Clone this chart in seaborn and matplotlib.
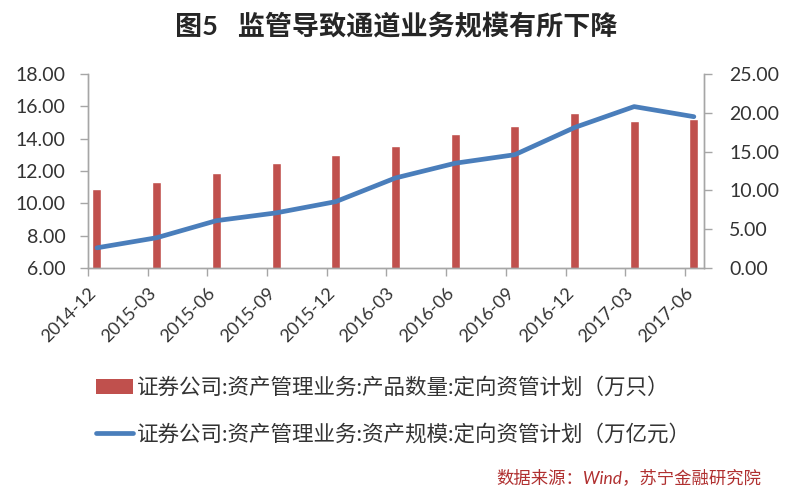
import numpy as np
import pandas as pd
import matplotlib
matplotlib.use("Agg")
import matplotlib.pyplot as plt
import seaborn as sns
from matplotlib.patches import Patch
from matplotlib.lines import Line2D

categories = ["2014-12", "2015-03", "2015-06", "2015-09", "2015-12", "2016-03",
              "2016-06", "2016-09", "2016-12", "2017-03", "2017-06"]
product_count = [10.9, 11.3, 11.9, 12.5, 13.0, 13.55, 14.3, 14.8, 15.6, 15.1, 15.2]
asset_scale = [2.6, 3.9, 6.1, 7.1, 8.55, 11.6, 13.5, 14.6, 18.1, 20.8, 19.5]
left_ticks = [6, 8, 10, 12, 14, 16, 18]
right_ticks = [0, 5, 10, 15, 20, 25]

title = "图5   监管导致通道业务规模有所下降"
label_bar = "证券公司:资产管理业务:产品数量:定向资管计划（万只）"
label_line = "证券公司:资产管理业务:资产规模:定向资管计划（万亿元）"
source = "数据来源：Wind，苏宁金融研究院"

sns.set_style("white")
plt.rcParams["font.family"] = ["Lato", "Noto Sans CJK SC", "DejaVu Sans"]

BAR_COLOR = "#C0504D"
LINE_COLOR = "#4A7EBB"
AXIS_COLOR = "#A6A6A6"
TEXT_COLOR = "#333333"

df = pd.DataFrame({"cat": categories, "count": product_count, "scale": asset_scale,
                   "pos": np.arange(len(categories))})

fig = plt.figure(figsize=(8, 5), dpi=100)
ax = fig.add_axes([0.11, 0.464, 0.77, 0.388])

sns.barplot(data=df, x="pos", y="count", native_scale=True, color=BAR_COLOR,
            width=0.15, saturation=1, ax=ax, zorder=2)
ax.set_ylim(6, 18)
ax.set_yticks(left_ticks)
ax.set_yticklabels([f"{v:.2f}" for v in left_ticks], fontsize=14, color=TEXT_COLOR)

ax2 = ax.twinx()
sns.lineplot(data=df, x="pos", y="scale", color=LINE_COLOR, linewidth=3.4, ax=ax2)
ax2.set_ylim(0, 25)
ax2.set_yticks(right_ticks)
ax2.set_yticklabels([f"{v:.2f}" for v in right_ticks], fontsize=14, color=TEXT_COLOR)

n = len(categories)
ax.set_xlim(-0.15, n - 1 + 0.17)
ax.set_xticks(np.arange(n) - 0.15)
ax.set_xticklabels(categories, rotation=45, ha="right", rotation_mode="anchor",
                   fontsize=13, color=TEXT_COLOR)

for a in (ax, ax2):
    a.set_xlabel("")
    a.set_ylabel("")
    a.grid(False)
    for s in a.spines.values():
        s.set_color(AXIS_COLOR)
        s.set_linewidth(1.0)
    a.spines["top"].set_visible(False)
    a.tick_params(axis="both", which="major", length=6, width=1, color=AXIS_COLOR,
                  direction="out", pad=4)
ax.tick_params(axis="y", left=True, pad=10)
ax.tick_params(axis="x", bottom=True, pad=6)
ax2.tick_params(axis="y", right=True, pad=12)

fig.text(0.495, 0.948, title, ha="center", va="center", fontsize=19.5,
         fontweight="bold", color="#262626")

handles = [Patch(facecolor=BAR_COLOR, edgecolor="none"),
           Line2D([0], [0], color=LINE_COLOR, linewidth=3.4)]
fig.legend(handles, [label_bar, label_line], loc="upper left",
           bbox_to_anchor=(0.12, 0.246), frameon=False, fontsize=15.5,
           labelspacing=1.2, handlelength=1.7, handletextpad=0.2,
           borderpad=0, borderaxespad=0, labelcolor=TEXT_COLOR)

fig.text(0.952, 0.045, source, ha="right", va="center", fontsize=12.5,
         style="italic", color="#B03030")

fig.savefig("out.png", dpi=100)
